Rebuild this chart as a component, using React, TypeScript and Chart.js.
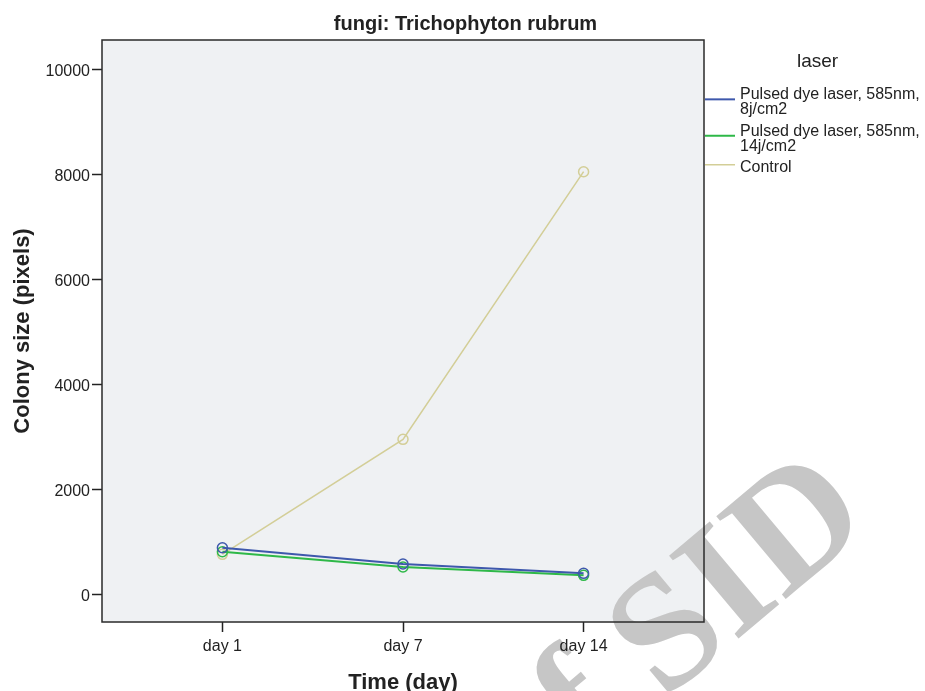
import React, { useEffect, useRef } from 'react';
import { Chart, registerables } from 'chart.js';

Chart.register(...registerables);

const chartTitle = 'fungi: Trichophyton rubrum';
const categories = ['day 1', 'day 7', 'day 14'];
const seriesNames = ['Pulsed dye laser, 585nm, 8j/cm2', 'Pulsed dye laser, 585nm, 14j/cm2', 'Control'];
const legendLines = [['Pulsed dye laser, 585nm,', '8j/cm2'], ['Pulsed dye laser, 585nm,', '14j/cm2'], ['Control']];
const pdl8Values = [891, 580, 403];
const pdl14Values = [814, 523, 365];
const controlValues = [765, 2953, 8046];
const seriesColors = ['#3e58ac', '#2eb848', '#d3ce97'];
const seriesWidths = [2, 2, 1.5];
const yTicks = [0, 2000, 4000, 6000, 8000, 10000];
const yMin = -523;
const yMax = 10552;
const legendTitle = 'laser';
const xTitle = 'Time (day)';
const yTitle = 'Colony size (pixels)';
const watermarkPrefix = 'Archive of ';
const watermarkMain = 'SID';

const FONT = '"Liberation Sans", Arial, sans-serif';
const INK = '#222222';
const PLOT_BG = '#eff1f3';

const decor = {
  id: 'decor',
  beforeDraw(chart: any) {
    const { ctx, chartArea } = chart;
    const { left, top, right, bottom } = chartArea;
    ctx.save();
    ctx.fillStyle = '#ffffff';
    ctx.fillRect(0, 0, chart.width, chart.height);
    ctx.fillStyle = PLOT_BG;
    ctx.fillRect(left, top, right - left, bottom - top);
    ctx.restore();
    // watermark (under axes, labels and frame)
    ctx.save();
    ctx.translate(664, 701);
    ctx.rotate((-40 * Math.PI) / 180);
    ctx.font = 'bold 165px "Liberation Serif", "DejaVu Serif", serif';
    ctx.fillStyle = '#c6c6c6';
    ctx.textBaseline = 'alphabetic';
    ctx.textAlign = 'left';
    const pre = ctx.measureText(watermarkPrefix).width;
    ctx.fillText(watermarkPrefix + watermarkMain, -pre, 0);
    ctx.restore();
  },
  beforeDatasetsDraw(chart: any) {
    const { ctx, chartArea } = chart;
    const { left, top, right, bottom } = chartArea;
    ctx.save();
    ctx.strokeStyle = '#2a2a2a';
    ctx.lineWidth = 1.5;
    ctx.strokeRect(left, top, right - left, bottom - top);
    ctx.restore();
  },
  afterDraw(chart: any) {
    const { ctx } = chart;
    ctx.save();
    // title
    ctx.fillStyle = INK;
    ctx.font = `bold 20px ${FONT}`;
    ctx.textAlign = 'center';
    ctx.textBaseline = 'middle';
    ctx.fillText(chartTitle, chart.width / 2 + 3, 24);
    // legend title
    ctx.font = `19px ${FONT}`;
    ctx.fillText(legendTitle, 817.5, 62);
    // legend items
    ctx.font = `16px ${FONT}`;
    ctx.textAlign = 'left';
    ctx.textBaseline = 'alphabetic';
    const lineGap = 14.8;
    const itemGap = 21.6;
    let baseline = 99.3;
    legendLines.forEach((lines, i) => {
      const first = baseline;
      lines.forEach((t, k) => {
        ctx.fillStyle = INK;
        ctx.fillText(t, 740, baseline);
        if (k < lines.length - 1) baseline += lineGap;
      });
      const last = baseline;
      const capTop = first - 11.5;
      const ly = (capTop + last) / 2 - 1.6;
      ctx.strokeStyle = seriesColors[i];
      ctx.lineWidth = seriesWidths[i];
      ctx.beginPath();
      ctx.moveTo(705, ly);
      ctx.lineTo(735, ly);
      ctx.stroke();
      baseline += itemGap;
    });
    ctx.restore();
  },
};

export default function App() {
  const ref = useRef<HTMLCanvasElement>(null);
  useEffect(() => {
    const seriesValues = [pdl8Values, pdl14Values, controlValues];
    const chart = new Chart(ref.current as HTMLCanvasElement, {
      type: 'line',
      data: {
        datasets: seriesValues.map((vals, i) => ({
          label: seriesNames[i],
          data: vals.map((v, k) => ({ x: k, y: v })),
          borderColor: seriesColors[i],
          borderWidth: seriesWidths[i],
          pointStyle: 'circle',
          pointRadius: 5,
          pointBorderWidth: 1.5,
          pointBorderColor: seriesColors[i],
          pointBackgroundColor: 'rgba(0,0,0,0)',
          tension: 0,
          fill: false,
        })),
      },
      options: {
        responsive: false,
        animation: false,
        events: [],
        layout: { padding: { top: 40, right: 221, left: 0, bottom: 0 } },
        plugins: {
          legend: { display: false },
          title: { display: false },
          tooltip: { enabled: false },
        },
        scales: {
          x: {
            type: 'linear',
            min: -2 / 3,
            max: 2 + 2 / 3,
            afterBuildTicks: (s: any) => {
              s.ticks = categories.map((_, i) => ({ value: i }));
            },
            afterFit: (s: any) => {
              s.height = 69;
            },
            grid: { drawOnChartArea: false, drawTicks: true, tickLength: 10, tickColor: INK, tickWidth: 1.5 },
            border: { display: false },
            ticks: {
              padding: 4.5,
              color: INK,
              maxRotation: 0,
              autoSkip: false,
              font: { family: FONT, size: 16 },
              callback: (v: any) => categories[Math.round(Number(v))] ?? '',
            },
            title: {
              display: true,
              text: xTitle,
              color: INK,
              font: { family: FONT, size: 22, weight: 'bold', lineHeight: 1 },
              padding: { top: 0, bottom: -3 },
            },
          },
          y: {
            type: 'linear',
            min: yMin,
            max: yMax,
            afterBuildTicks: (s: any) => {
              s.ticks = yTicks.map((v) => ({ value: v }));
            },
            afterFit: (s: any) => {
              s.width = 102;
            },
            grid: { drawOnChartArea: false, drawTicks: true, tickLength: 10, tickColor: INK, tickWidth: 1.5 },
            border: { display: false },
            ticks: {
              padding: 2,
              labelOffset: 2.5,
              color: INK,
              autoSkip: false,
              font: { family: FONT, size: 16 },
              callback: (v: any) => String(v),
            },
            title: {
              display: true,
              text: yTitle,
              color: INK,
              font: { family: FONT, size: 22, weight: 'bold', lineHeight: 1 },
              padding: { top: 12, bottom: 0 },
            },
          },
        },
      },
      plugins: [decor],
    } as any);
    return () => chart.destroy();
  }, []);
  return (
    <div style={{ position: 'fixed', left: 0, top: 0, width: 925, height: 691, background: '#fff' }}>
      <canvas ref={ref} width={925} height={691} style={{ display: 'block' }} />
    </div>
  );
}
